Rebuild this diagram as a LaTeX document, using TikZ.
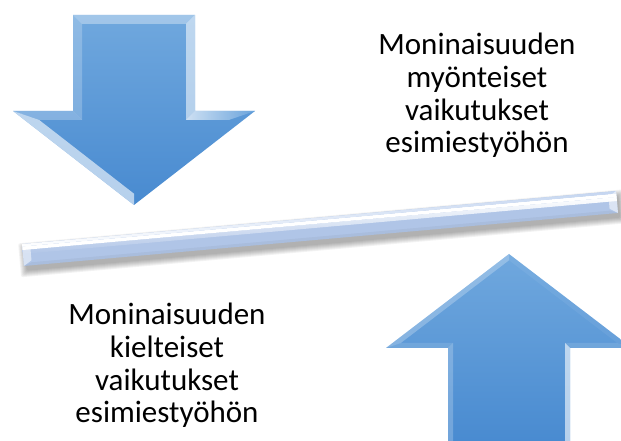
\documentclass[tikz,border=0pt]{standalone}
\usepackage{fontspec}
\setmainfont{Carlito}
\definecolor{arrowtop}{RGB}{112,168,222}
\definecolor{arrowbot}{RGB}{72,138,208}
\definecolor{barblue}{RGB}{176,197,231}
\definecolor{barlight}{RGB}{196,213,240}
\begin{document}
\begin{tikzpicture}[x=1pt,y=1pt,
  lbl/.style={font=\fontsize{31}{33}\selectfont, inner sep=0pt, anchor=base, text=black},
  arrowbody/.style={top color=arrowtop, bottom color=arrowbot},
  facet/.style={fill=white, fill opacity=#1}]
\useasboundingbox (0,0) rectangle (621,441);
\clip (0,0) rectangle (621,441);

% ---------- down arrow ----------
\shade[arrowbody] (73,426) -- (195,426) -- (195,330) -- (255,330) -- (134,236) -- (13,330) -- (73,330) -- cycle;
\fill[facet=0.35] (73,426) -- (195,426) -- (186,417) -- (82,417) -- cycle;
\fill[facet=0.22] (73,426) -- (82,417) -- (82,321) -- (73,330) -- cycle;
\fill[facet=0.55] (195,426) -- (195,330) -- (186,321) -- (186,417) -- cycle;
\fill[facet=0.25] (13,330) -- (73,330) -- (82,321) -- (39.2,321) -- cycle;
\shade[left color=white, right color=arrowtop, fill opacity=0.7] (195,330) -- (255,330) -- (228.8,321) -- (186,321) -- cycle;
\fill[facet=0.6] (13,330) -- (39.2,321) -- (134,247.3) -- (134,236) -- cycle;

% ---------- up arrow ----------
\shade[arrowbody] (509,187) -- (632,93) -- (570,93) -- (570,-5) -- (448,-5) -- (448,93) -- (386,93) -- cycle;
\fill[facet=0.25] (386,93) -- (509,187) -- (509,180.7) -- (400.8,98) -- cycle;
\fill[facet=0.06] (509,187) -- (632,93) -- (617.2,98) -- (509,180.7) -- cycle;
\fill[facet=0.12] (386,93) -- (448,93) -- (453,98) -- (400.8,98) -- cycle;
\fill[facet=0.22] (448,93) -- (448,-5) -- (453,-5) -- (453,98) -- cycle;
\fill[facet=0.6] (570,93) -- (565,98) -- (565,-5) -- (570,-5) -- cycle;
\fill[facet=0.12] (632,93) -- (570,93) -- (565,98) -- (617.2,98) -- cycle;

% ---------- bar ----------
\begin{scope}[shift={(320,212.5)}, rotate=5.1]
  \foreach \s in {0,1,2,3,4,5,6}
    \fill[black, opacity=0.05, rounded corners=2pt] (-296-\s,-16-\s) rectangle (300+\s,6+\s);
  \fill[barblue] (-298.2,-11) rectangle (298.2,11);
  \shade[top color=white, bottom color=barblue] (-298.2,1) rectangle (298.2,5);
  \fill[white] (-298.2,5) rectangle (298.2,8.5);
  \shade[top color=barlight, bottom color=white] (-298.2,8.5) rectangle (298.2,11);
  \fill[facet=0.5] (-298.2,-11) -- (-298.2,11) -- (-290.2,6) -- (-290.2,-6) -- cycle;
  \fill[facet=0.55] (298.2,-11) -- (298.2,11) -- (290.2,6) -- (290.2,-6) -- cycle;
  \fill[black, fill opacity=0.04] (-298.2,-11) -- (298.2,-11) -- (290.2,-8) -- (-290.2,-8) -- cycle;
\end{scope}

% ---------- texts ----------
\node[lbl] (t1) at (477,386) {Moninaisuuden};
\node[lbl] (t2) at (477,353.3) {myönteiset};
\node[lbl] (t3) at (477,320.7) {vaikutukset};
\node[lbl] (t4) at (477,288) {esimiestyöhön};
\node[lbl] (b1) at (167,116) {Moninaisuuden};
\node[lbl] (b2) at (167,83.3) {kielteiset};
\node[lbl] (b3) at (167,50.7) {vaikutukset};
\node[lbl] (b4) at (167,18) {esimiestyöhön};
\end{tikzpicture}
\end{document}
